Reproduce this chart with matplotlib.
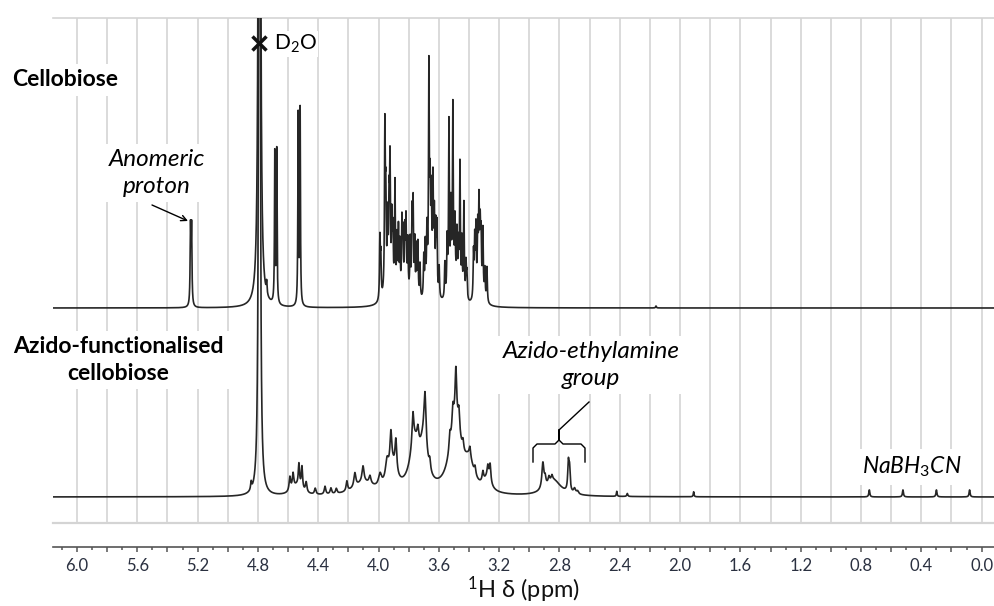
import numpy as np
import matplotlib
matplotlib.use("Agg")
import matplotlib.pyplot as plt
from matplotlib.lines import Line2D
from matplotlib.ticker import MultipleLocator, FuncFormatter

plt.rcParams["font.family"] = ["Lato", "DejaVu Sans"]
plt.rcParams["mathtext.fontset"] = "custom"
plt.rcParams["mathtext.rm"] = "Lato"
plt.rcParams["mathtext.it"] = "Lato:italic"
plt.rcParams["mathtext.bf"] = "Lato:bold"

W, H = 994, 606

# peak lists: centre (ppm), height (px above baseline), half-width (ppm)
top_ppm = [5.247, 5.240, 4.790, 4.742, 4.688, 4.675, 4.533, 4.520,
           3.991, 3.985, 3.958, 3.952, 3.940, 3.930, 3.924, 3.912, 3.905, 3.891,
           3.878, 3.868, 3.858, 3.845, 3.838, 3.826, 3.818, 3.806, 3.790, 3.778,
           3.771, 3.760, 3.749, 3.739, 3.725, 3.700, 3.690, 3.679, 3.666, 3.658,
           3.650, 3.639, 3.630, 3.620, 3.613, 3.598, 3.560, 3.545, 3.533, 3.520,
           3.507, 3.493, 3.480, 3.470, 3.460, 3.447, 3.434, 3.420, 3.414, 3.370,
           3.362, 3.354, 3.342, 3.334, 3.326, 3.320, 3.308, 3.295, 3.281,
           3.930, 3.820, 3.650, 3.500, 3.330, 2.160]
top_h = [76, 76, 3000, 12, 150, 153, 190, 195,
         60, 40, 160, 85, 65, 75, 115, 65, 55, 110,
         55, 65, 50, 70, 55, 55, 65, 50, 55, 80,
         90, 55, 50, 55, 35, 40, 50, 60, 215, 85,
         80, 100, 70, 60, 65, 30, 35, 55, 170, 80,
         175, 60, 55, 45, 130, 55, 95, 35, 25, 45,
         55, 65, 60, 80, 55, 50, 65, 30, 35,
         20, 15, 22, 22, 18, 2]
top_w = [0.003, 0.003, 0.0035, 0.003, 0.0025, 0.0025, 0.0025, 0.0025] + [0.003] * 59 + \
        [0.03, 0.02, 0.025, 0.025, 0.02, 0.003]

bot_ppm = [4.790, 4.845, 4.588, 4.567, 4.528, 4.508, 4.480, 4.540,
           4.420, 4.355, 4.316, 4.280, 4.210, 4.157, 4.103, 4.057, 4.100,
           3.990, 3.944, 3.918, 3.885, 3.910, 3.772, 3.739, 3.760,
           3.692, 3.660, 3.700, 3.527, 3.507, 3.487, 3.467, 3.440, 3.394, 3.360,
           3.490, 3.400, 3.308, 3.275, 3.260, 3.280,
           2.910, 2.895, 2.870, 2.850, 2.840, 2.741, 2.733, 2.700, 2.680,
           2.420, 2.350, 1.910, 0.745, 0.522, 0.300, 0.080]
bot_h = [2000, 8, 14, 15, 22, 22, 10, 10,
         6, 8, 6, 5, 10, 14, 16, 8, 12,
         12, 18, 32, 32, 25, 32, 15, 45,
         50, 10, 40, 15, 20, 48, 20, 10, 10, 8,
         72, 25, 10, 12, 18, 12,
         26, 8, 6, 5, 16, 28, 22, 5, 3,
         5, 3, 5, 7, 7, 7, 7]
bot_w = [0.0035, 0.004, 0.006, 0.006, 0.005, 0.005, 0.006, 0.04,
         0.006, 0.006, 0.006, 0.006, 0.006, 0.008, 0.008, 0.008, 0.08,
         0.012, 0.012, 0.007, 0.007, 0.035, 0.007, 0.007, 0.04,
         0.008, 0.006, 0.03, 0.006, 0.006, 0.006, 0.006, 0.006, 0.006, 0.006,
         0.045, 0.04, 0.006, 0.006, 0.006, 0.03,
         0.008, 0.006, 0.006, 0.006, 0.06, 0.005, 0.005, 0.008, 0.008,
         0.003, 0.004, 0.003, 0.004, 0.004, 0.004, 0.004]

top_base, bot_base = 215, 26


def trace(x, centres, heights, widths):
    c = np.asarray(centres)[:, None]
    h = np.asarray(heights)[:, None]
    w = np.asarray(widths)[:, None]
    return (h * w ** 2 / (w ** 2 + (x[None, :] - c) ** 2)).sum(axis=0)


x = np.linspace(6.16, -0.09, 25001)

fig = plt.figure(figsize=(W / 100, H / 100), dpi=100)
ax = fig.add_axes([53 / W, 1 - 523 / H, (W - 53) / W, 505 / H])
ax.set_xlim(6.159, -0.082)
ax.set_ylim(0, 505)

line_kw = dict(color="#262626", lw=1.2, zorder=3)
ax.plot(x, top_base + trace(x, top_ppm, top_h, top_w), **line_kw)
ax.plot(x, bot_base + trace(x, bot_ppm, bot_h, bot_w), **line_kw)

# axes styling
grid_c = "#d4d4d4"
ax.xaxis.set_major_locator(MultipleLocator(0.2))
ax.xaxis.set_minor_locator(MultipleLocator(0.1))
ax.xaxis.set_major_formatter(FuncFormatter(
    lambda v, p: f"{abs(v):.1f}" if abs(round(v / 0.4) * 0.4 - v) < 1e-6 else ""))
ax.grid(axis="x", color=grid_c, lw=1.2, zorder=0)
ax.set_yticks([])
for s in ["left", "right"]:
    ax.spines[s].set_visible(False)
ax.spines["top"].set_color(grid_c)
ax.spines["top"].set_linewidth(1.2)
ax.axhline(0, color=grid_c, lw=1.6, clip_on=False, zorder=1)
ax.spines["bottom"].set_position(("outward", 17.5))
ax.spines["bottom"].set_color("#555555")
ax.spines["bottom"].set_linewidth(1.2)
ax.tick_params(axis="x", which="major", length=3.8, width=1.1, color="#555555",
               labelsize=12, labelcolor="#2a3040", pad=4)
ax.tick_params(axis="x", which="minor", length=2.2, width=1.1, color="#555555")
ax.set_xlabel("$^1$H δ (ppm)", fontsize=17, labelpad=0, color="#111111")


def fp(px, py):
    return px / W, 1 - py / H


box = dict(facecolor="white", edgecolor="none", pad=4)
fig.text(*fp(12, 80), "Cellobiose", fontsize=16.5, fontweight="bold",
         va="center", ha="left", bbox=box, zorder=5)
fig.text(*fp(118, 360), "Azido-functionalised\ncellobiose", fontsize=16.5,
         fontweight="bold", va="center", ha="center", ma="center",
         linespacing=1.35, bbox=box, zorder=5)
fig.text(*fp(157, 173), "Anomeric\nproton", fontsize=17.5, style="italic",
         va="center", ha="center", ma="center", linespacing=1.3, bbox=box, zorder=5)
ax.annotate("", xy=fp(188, 221), xytext=fp(152, 205), xycoords="figure fraction",
            textcoords="figure fraction",
            arrowprops=dict(arrowstyle="->", color="black", lw=1.0,
                            shrinkA=0, shrinkB=0), zorder=5)

ax.plot([4.79], [523 - 43], marker="x", ms=10, mew=2.5, color="#111111",
        zorder=6, clip_on=False)
fig.text(*fp(274, 44), "D$_2$O", fontsize=15, va="center", ha="left",
         bbox=dict(facecolor="white", edgecolor="none", pad=1), zorder=5)

fig.text(*fp(591, 365), "Azido-ethylamine\ngroup", fontsize=17.5, style="italic",
         va="center", ha="center", ma="center", linespacing=1.3, bbox=box, zorder=5)
fig.text(*fp(912, 467), "$\\mathit{NaBH_3CN}$", fontsize=16.5,
         va="center", ha="center", bbox=box, zorder=5)

# bracket over the azido-ethylamine signals
bx = [533, 533, 537, 555, 559, 559, 559, 563, 581, 585, 585]
by = [462, 448, 444, 444, 440, 430, 440, 444, 444, 448, 462]
fig.add_artist(Line2D([v / W for v in bx], [1 - v / H for v in by],
                      color="black", lw=1.0, zorder=5))
fig.add_artist(Line2D([559 / W, 589 / W], [1 - 430 / H, 1 - 402 / H],
                      color="black", lw=1.0, zorder=5))

fig.savefig("out.png", dpi=100)
